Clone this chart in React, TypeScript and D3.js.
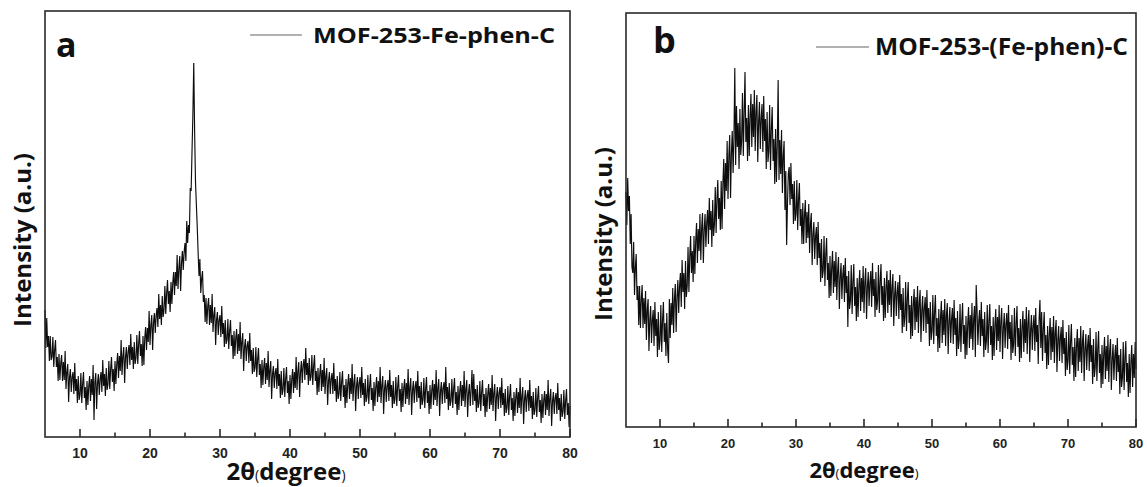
import React from 'react';
import * as d3 from 'd3';

// scan grid (2θ, degrees) shared by both patterns
const scanStart = 5;
const scanStep = 0.125;

const xTicksMajor = [10, 20, 30, 40, 50, 60, 70, 80];
const xTicksMinor = [15, 25, 35, 45, 55, 65, 75];

// MOF-253-Fe-phen-C, intensity (a.u.), 8 points per degree (one row = one degree)
const intensityA = [
  127, 89, 119, 90, 101, 76, 101, 77,
  80, 100, 70, 87, 97, 70, 80, 56,
  83, 57, 74, 82, 56, 75, 57, 86,
  48, 65, 73, 35, 60, 68, 45, 60,
  65, 43, 74, 46, 58, 34, 61, 37,
  42, 64, 34, 53, 65, 39, 50, 27,
  56, 32, 51, 61, 36, 58, 42, 72,
  17, 55, 64, 28, 54, 63, 42, 58,
  65, 45, 77, 51, 63, 41, 69, 47,
  53, 76, 48, 68, 80, 55, 68, 46,
  76, 53, 73, 84, 59, 81, 66, 97,
  62, 81, 90, 54, 80, 90, 68, 85,
  92, 72, 103, 77, 90, 68, 95, 73,
  79, 102, 73, 93, 106, 81, 93, 71,
  101, 72, 99, 110, 87, 109, 95, 126,
  92, 112, 122, 87, 114, 124, 104, 121,
  129, 110, 143, 118, 132, 112, 141, 120,
  127, 151, 123, 144, 157, 133, 146, 125,
  155, 133, 154, 165, 142, 165, 151, 182,
  148, 169, 181, 146, 174, 186, 167, 185,
  194, 176, 216, 194, 212, 204, 249, 246,
  285, 322, 374, 305, 255, 232, 210, 184,
  161, 178, 144, 158, 166, 135, 142, 115,
  139, 113, 131, 139, 112, 132, 114, 143,
  105, 122, 130, 92, 117, 125, 102, 117,
  122, 100, 131, 103, 114, 90, 117, 93,
  97, 118, 88, 106, 117, 91, 102, 78,
  106, 81, 99, 108, 83, 103, 86, 115,
  78, 95, 104, 66, 90, 98, 76, 91,
  96, 74, 104, 76, 87, 63, 89, 65,
  69, 90, 60, 78, 89, 62, 73, 49,
  77, 52, 70, 79, 53, 74, 57, 86,
  50, 67, 76, 38, 63, 71, 49, 64,
  69, 48, 78, 51, 63, 39, 66, 42,
  47, 69, 40, 58, 70, 44, 56, 33,
  62, 38, 58, 68, 44, 65, 49, 80,
  47, 66, 75, 40, 65, 76, 54, 72,
  78, 57, 89, 62, 74, 52, 79, 56,
  60, 82, 52, 71, 82, 56, 66, 42,
  69, 45, 63, 73, 46, 67, 50, 79,
  43, 61, 69, 32, 56, 65, 43, 58,
  64, 43, 74, 46, 58, 35, 61, 38,
  43, 65, 36, 55, 66, 40, 52, 29,
  58, 34, 53, 63, 38, 59, 43, 73,
  36, 54, 63, 26, 51, 60, 38, 54,
  60, 39, 70, 42, 54, 31, 58, 35,
  40, 62, 33, 51, 63, 37, 49, 26,
  55, 31, 50, 60, 35, 56, 40, 70,
  34, 52, 61, 23, 48, 57, 35, 51,
  57, 36, 67, 40, 52, 29, 56, 33,
  38, 60, 31, 50, 62, 36, 48, 25,
  54, 30, 49, 58, 33, 54, 38, 68,
  32, 50, 59, 22, 47, 56, 34, 50,
  56, 35, 66, 39, 51, 28, 55, 32,
  37, 59, 29, 48, 60, 34, 46, 23,
  52, 28, 47, 57, 32, 53, 37, 67,
  31, 49, 58, 21, 46, 55, 33, 49,
  55, 34, 70, 38, 50, 27, 54, 31,
  36, 58, 29, 48, 59, 33, 45, 22,
  51, 27, 46, 56, 31, 52, 36, 66,
  30, 48, 57, 20, 44, 53, 31, 47,
  67, 32, 63, 36, 48, 25, 52, 29,
  34, 56, 26, 45, 57, 31, 43, 20,
  49, 25, 43, 53, 28, 49, 32, 62,
  26, 44, 53, 16, 41, 50, 28, 44,
  50, 29, 59, 32, 44, 21, 48, 24,
  29, 51, 22, 41, 53, 27, 39, 16,
  45, 21, 40, 49, 24, 45, 29, 59,
  23, 41, 50, 13, 38, 47, 25, 41,
  47, 26, 57, 29, 41, 18, 45, 22,
  27, 49, 20, 39, 51, 25, 37, 14,
  43, 19, 37, 46, 22, 43, 27, 57,
  21, 39, 48, 11, 36, 45, 23, 39,
  44, 23, 54, 27, 39, 16, 43, 20,
  25, 47, 18, 36, 48, 22, 34, 10,
  31,
];

// MOF-253-(Fe-phen)-C, intensity (a.u.), 8 points per degree (one row = one degree)
const intensityB = [
  235, 202, 249, 216, 231, 183, 213, 160,
  154, 185, 132, 159, 173, 127, 141, 102,
  141, 99, 128, 142, 99, 129, 103, 136,
  87, 117, 128, 76, 107, 121, 84, 107,
  117, 81, 125, 91, 108, 70, 115, 77,
  86, 122, 75, 107, 125, 85, 104, 71,
  114, 77, 64, 128, 89, 124, 102, 139,
  94, 128, 143, 95, 129, 147, 114, 141,
  154, 120, 167, 135, 154, 118, 166, 130,
  141, 180, 135, 170, 191, 154, 176, 145,
  191, 153, 186, 204, 164, 198, 176, 213,
  167, 199, 214, 164, 197, 213, 180, 205,
  217, 183, 229, 197, 216, 180, 227, 191,
  202, 240, 194, 228, 247, 208, 229, 197,
  246, 198, 243, 268, 218, 264, 236, 286,
  228, 271, 292, 229, 273, 296, 254, 289,
  359, 262, 321, 280, 304, 258, 318, 272,
  286, 334, 271, 314, 355, 285, 309, 266,
  322, 271, 311, 333, 280, 323, 290, 337,
  276, 315, 332, 265, 305, 325, 278, 309,
  323, 275, 331, 286, 308, 258, 315, 265,
  276, 322, 257, 298, 320, 266, 288, 243,
  298, 245, 283, 347, 247, 287, 253, 297,
  234, 271, 286, 217, 256, 182, 225, 254,
  260, 222, 264, 228, 243, 203, 246, 206,
  213, 247, 197, 228, 244, 201, 218, 183,
  224, 183, 212, 227, 184, 215, 189, 223,
  174, 203, 214, 162, 192, 205, 168, 191,
  200, 162, 205, 169, 184, 145, 188, 149,
  156, 191, 141, 172, 189, 147, 164, 129,
  171, 131, 160, 176, 134, 166, 140, 175,
  127, 157, 170, 118, 150, 164, 128, 152,
  162, 125, 169, 134, 151, 100, 156, 118,
  126, 162, 113, 145, 163, 121, 140, 106,
  149, 110, 141, 157, 116, 149, 125, 161,
  114, 145, 159, 108, 140, 155, 121, 145,
  156, 120, 164, 131, 148, 110, 155, 117,
  126, 162, 114, 145, 163, 122, 141, 106,
  149, 109, 140, 156, 114, 147, 122, 157,
  110, 140, 153, 101, 132, 146, 111, 134,
  145, 108, 152, 117, 133, 94, 139, 100,
  109, 145, 96, 128, 145, 104, 122, 88,
  131, 91, 122, 138, 97, 130, 105, 141,
  94, 124, 137, 85, 117, 131, 96, 119,
  130, 94, 137, 103, 119, 81, 125, 87,
  96, 132, 83, 115, 132, 91, 109, 75,
  118, 79, 109, 126, 84, 117, 92, 128,
  81, 112, 124, 73, 105, 120, 84, 108,
  119, 83, 127, 92, 109, 71, 116, 78,
  87, 123, 75, 106, 124, 83, 102, 68,
  111, 72, 103, 120, 79, 112, 88, 124,
  77, 108, 121, 70, 142, 117, 82, 106,
  117, 81, 125, 91, 108, 70, 115, 77,
  86, 122, 74, 106, 123, 82, 101, 67,
  110, 71, 102, 118, 77, 110, 86, 122,
  75, 106, 119, 68, 99, 114, 79, 103,
  114, 78, 122, 88, 105, 67, 112, 74,
  83, 119, 71, 103, 121, 80, 99, 65,
  108, 69, 100, 116, 75, 108, 84, 120,
  73, 104, 117, 65, 97, 112, 77, 101,
  112, 76, 119, 85, 102, 63, 108, 127,
  79, 115, 66, 98, 115, 74, 92, 58,
  101, 62, 92, 109, 67, 100, 75, 111,
  64, 94, 107, 55, 87, 101, 66, 89,
  100, 64, 107, 73, 89, 51, 95, 57,
  66, 102, 53, 85, 103, 62, 80, 46,
  89, 50, 81, 98, 56, 89, 65, 101,
  54, 85, 97, 46, 78, 93, 57, 81,
  92, 56, 99, 65, 82, 43, 88, 50,
  59, 95, 46, 78, 96, 54, 73, 39,
  82, 43, 73, 90, 48, 81, 56, 92,
  45, 76, 88, 37, 68, 83, 47, 71,
  82, 46, 89, 55, 72, 33, 78, 40,
  49, 85, 37, 69, 86, 45, 64, 30,
  73, 34, 65, 82, 40, 73, 49, 85,
  58,
];

const labelFont = "'Open Sans', 'DejaVu Sans', sans-serif";
const tickFont = "'Liberation Sans', Arial, sans-serif";

type Box = { left: number; right: number; top: number; bottom: number };

type PanelProps = {
  box: Box;
  values: number[];
  yMax: number;
  letter: string;
  letterPos: [number, number];
  letterSize: number;
  legend: string;
  legendLine: [number, number, number];
  legendText: [number, number, number];
  legendSize: number;
  tickBaseline: number;
  tickSize: number;
  xTitle: [number, number, number];
  yTitle: [number, number];
};

function Panel(p: PanelProps) {
  const { box } = p;
  const x = d3.scaleLinear().domain([5, 80]).range([box.left, box.right]);
  const y = d3.scaleLinear().domain([0, p.yMax]).range([box.bottom, box.top]);

  const line = d3
    .line<number>()
    .x((_, i) => x(scanStart + i * scanStep))
    .y((d) => y(d));

  const big = p.xTitle[2];
  const small = Math.round(big * 0.58);

  return (
    <g>
      <path d={line(p.values) ?? ''} fill="none" stroke="#000" strokeWidth={1.15} strokeOpacity={0.95} />
      <rect
        x={box.left}
        y={box.top}
        width={box.right - box.left}
        height={box.bottom - box.top}
        fill="none"
        stroke="#2a2a2a"
        strokeWidth={1.6}
      />
      {xTicksMajor.map((t) => (
        <g key={'M' + t}>
          <line x1={x(t)} x2={x(t)} y1={box.bottom} y2={box.bottom - 8} stroke="#2a2a2a" strokeWidth={1.6} />
          <text
            x={x(t)}
            y={p.tickBaseline}
            textAnchor="middle"
            fontFamily={tickFont}
            fontWeight="bold"
            fontSize={p.tickSize}
            fill="#222"
          >
            {t}
          </text>
        </g>
      ))}
      {xTicksMinor.map((t) => (
        <line key={'m' + t} x1={x(t)} x2={x(t)} y1={box.bottom} y2={box.bottom - 4.5} stroke="#2a2a2a" strokeWidth={1.6} />
      ))}
      <text
        x={p.letterPos[0]}
        y={p.letterPos[1]}
        fontFamily={labelFont}
        fontWeight="bold"
        fontSize={p.letterSize}
        fill="#111"
      >
        {p.letter}
      </text>
      <line
        x1={p.legendLine[0]}
        x2={p.legendLine[1]}
        y1={p.legendLine[2]}
        y2={p.legendLine[2]}
        stroke="#999"
        strokeWidth={1.5}
      />
      <text
        x={p.legendText[0]}
        y={p.legendText[2]}
        textLength={p.legendText[1] - p.legendText[0]}
        lengthAdjust="spacingAndGlyphs"
        fontFamily={labelFont}
        fontWeight="bold"
        fontSize={p.legendSize}
        fill="#111"
      >
        {p.legend}
      </text>
      <text
        x={p.xTitle[0]}
        y={p.xTitle[1]}
        textAnchor="middle"
        fontFamily={labelFont}
        fontWeight="bold"
        fill="#111"
      >
        <tspan fontSize={big}>2θ</tspan>
        <tspan fontSize={small} fontWeight="normal">(</tspan>
        <tspan fontSize={big}>degree</tspan>
        <tspan fontSize={small} fontWeight="normal">)</tspan>
      </text>
      <text
        transform={`translate(${p.yTitle[0]},${p.yTitle[1]}) rotate(-90)`}
        textAnchor="middle"
        dominantBaseline="central"
        textLength={174}
        lengthAdjust="spacingAndGlyphs"
        fontFamily={labelFont}
        fontWeight="bold"
        fontSize={23}
        fill="#111"
      >
        Intensity (a.u.)
      </text>
    </g>
  );
}

export default function App() {
  return (
    <div style={{ position: 'absolute', left: 0, top: 0 }}>
      <svg width={1147} height={487} style={{ display: 'block', background: '#fff' }}>
        <Panel
          box={{ left: 45, right: 570, top: 11, bottom: 437 }}
          values={intensityA}
          yMax={426}
          letter="a"
          letterPos={[56, 57]}
          letterSize={34}
          legend="MOF-253-Fe-phen-C"
          legendLine={[250, 302, 35]}
          legendText={[313, 555, 43]}
          legendSize={22}
          tickBaseline={458}
          tickSize={14}
          xTitle={[286, 480, 24]}
          yTitle={[22, 240]}
        />
        <Panel
          box={{ left: 626, right: 1136, top: 13, bottom: 427 }}
          values={intensityB}
          yMax={414}
          letter="b"
          letterPos={[653, 53]}
          letterSize={36}
          legend="MOF-253-(Fe-phen)-C"
          legendLine={[816, 869, 47]}
          legendText={[875, 1128, 55]}
          legendSize={23}
          tickBaseline={448}
          tickSize={13}
          xTitle={[864, 478, 22]}
          yTitle={[603, 234]}
        />
      </svg>
    </div>
  );
}
